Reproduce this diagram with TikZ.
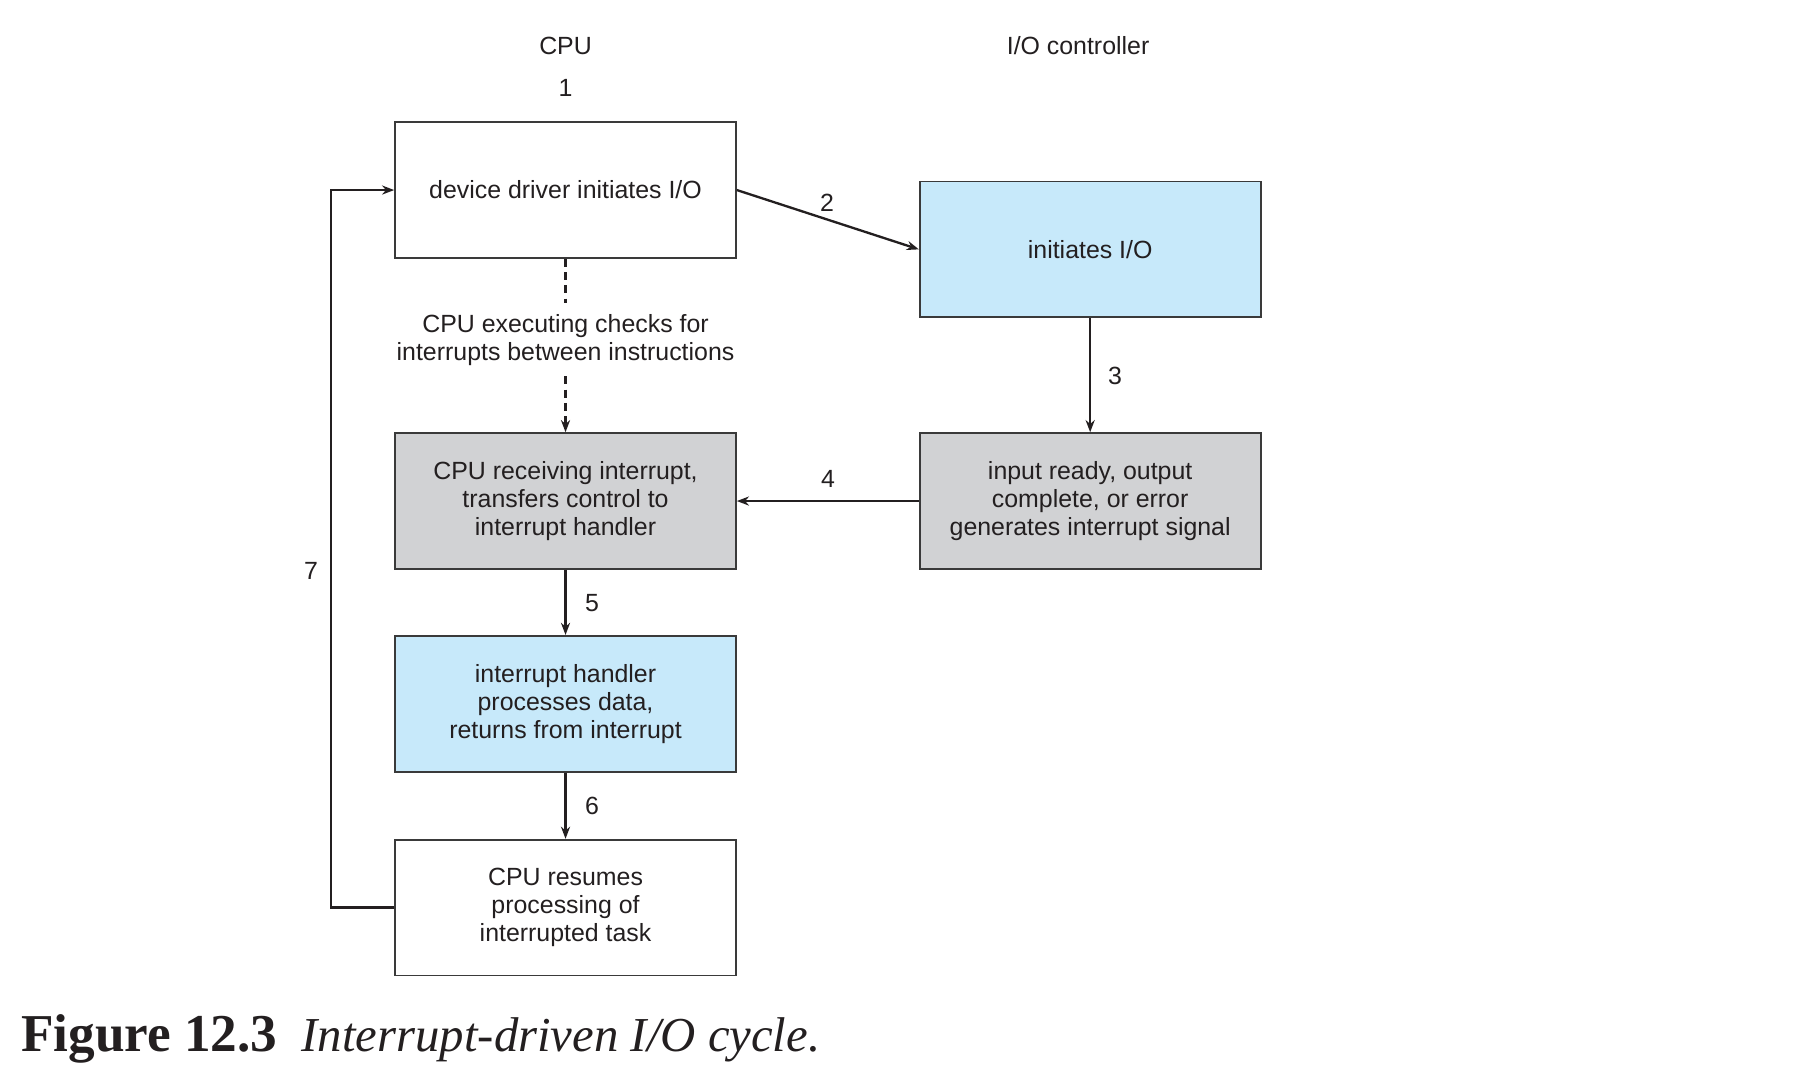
\documentclass[tikz,border=0pt]{standalone}
\usepackage{fontspec}
\setmainfont{Liberation Sans}
\newfontfamily\capfont{Liberation Serif}
\usetikzlibrary{arrows.meta}
\definecolor{ink}{HTML}{231F20}
\definecolor{boxblue}{HTML}{C7E9FA}
\definecolor{boxgray}{HTML}{D1D2D4}
\definecolor{frame}{HTML}{3A3A3A}
\begin{document}
\begin{tikzpicture}[x=0.2mm,y=-0.2mm,
  font=\fontsize{12.3}{13.8}\selectfont, text=ink,
  stagebox/.style={draw=frame, line width=0.85pt, minimum width=59.2mm,
    minimum height=23.6mm, align=center, inner sep=0pt},
  flow/.style={draw=ink, line width=1.15pt, -{Stealth[length=6pt,width=4.5pt]}},
  waitline/.style={draw=ink, line width=1.15pt, dash pattern=on 1.4mm off 0.9mm},
  lbl/.style={inner sep=1pt}]
\useasboundingbox (0,0) rectangle (1568,946);

% column headings
\node[lbl] (cpu) at (491,40) {CPU};
\node[lbl] (ioctl) at (936,40) {I/O controller};
\node[lbl] (n1) at (491,76) {1};

% stages of the cycle
\node[stagebox] (drv) at (491,165) {device driver initiates I/O};
\node[stagebox, fill=boxblue] (ioc) at (946.5,216.5) {initiates I/O};
\node[stagebox, fill=boxgray] (recv) at (491,435)
  {CPU receiving interrupt,\\transfers control to\\interrupt handler};
\node[stagebox, fill=boxgray] (sig) at (946.5,435)
  {input ready, output\\complete, or error\\generates interrupt signal};
\node[stagebox, fill=boxblue] (hdl) at (491,611)
  {interrupt handler\\processes data,\\returns from interrupt};
\node[stagebox] (res) at (491,788)
  {CPU resumes\\processing of\\interrupted task};

% CPU keeps running until the interrupt arrives
\node[align=center, inner xsep=0pt, inner ysep=5.2pt] (chk) at (491,295)
  {CPU executing checks for\\interrupts between instructions};
\draw[waitline] (drv.south) -- (chk.north);
\draw[waitline, -{Stealth[length=6pt,width=4.5pt]}] (chk.south) -- (recv.north);

% numbered transitions
\draw[flow] (drv.east) -- (ioc.west);
\node[lbl] (n2) at (718,176) {2};
\draw[flow] (ioc.south) -- (sig.north);
\node[lbl] (n3) at (968,326) {3};
\draw[flow] (sig.west) -- (recv.east);
\node[lbl] (n4) at (719,416) {4};
\draw[flow] (recv.south) -- (hdl.north);
\node[lbl] (n5) at (514,524) {5};
\draw[flow] (hdl.south) -- (res.north);
\node[lbl] (n6) at (514,700) {6};
\draw[flow] (res.west) -- ++(-55,0) |- (drv.west);
\node[lbl] (n7) at (270,496) {7};

% caption
\node[anchor=base west, inner sep=0pt] (cap) at (18,913)
  {\capfont\textbf{\fontsize{26.3}{27}\selectfont Figure 12.3}\hspace{4.2mm}%
   \textit{\fontsize{24.1}{26}\selectfont Interrupt-driven I/O cycle.}};
\end{tikzpicture}
\end{document}
